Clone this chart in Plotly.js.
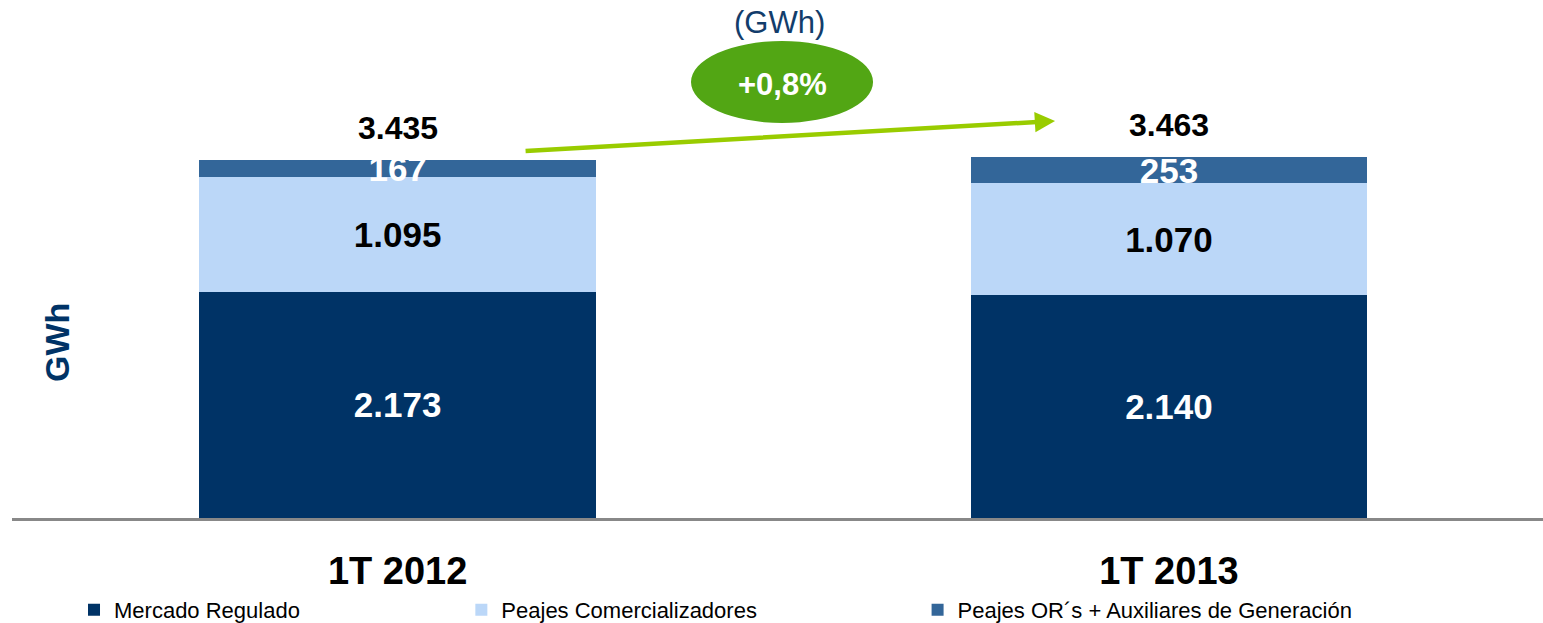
<!DOCTYPE html>
<html>
<head>
<meta charset="utf-8">
<script src="https://cdn.plot.ly/plotly-3.0.1.min.js"></script>
<style>html,body{margin:0;padding:0;background:#fff;}#chart{width:1543px;height:623px;}</style>
</head>
<body>
<div id="chart"></div>
<script>
const categories = ["1T 2012", "1T 2013"];
const mercadoRegulado = [2173, 2140];
const peajesComercializadores = [1095, 1070];
const peajesORs = [167, 253];
const totals = [3435, 3463];
const seriesNames = ["Mercado Regulado", "Peajes Comercializadores", "Peajes OR´s + Auxiliares de Generación"];
const growthLabel = "+0,8%";
const unitLabel = "(GWh)";
const yTitle = "GWh";

const FONT = "Liberation Sans, Arial, sans-serif";
const colors = ["#003366", "#BBD7F8", "#336699"];

function fmt(v) {
  return String(v).replace(/\B(?=(\d{3})+(?!\d))/g, ".");
}

const barWidth = 0.514;
function barTrace(name, values, color, textColor, legendId) {
  return {
    type: "bar",
    name: name,
    x: categories,
    y: values,
    width: [barWidth, barWidth],
    marker: {color: color, line: {width: 0}},
    texttemplate: "%{y:,.0f}",
    textposition: "inside",
    insidetextanchor: "middle",
    constraintext: "none",
    textangle: 0,
    cliponaxis: false,
    insidetextfont: {family: FONT, size: 35, color: textColor, weight: "bold"},
    legend: legendId,
    hoverinfo: "skip"
  };
}

const data = [
  barTrace(seriesNames[0], mercadoRegulado, colors[0], "#ffffff", "legend"),
  barTrace(seriesNames[1], peajesComercializadores, colors[1], "#000000", "legend2"),
  barTrace(seriesNames[2], peajesORs, colors[2], "#ffffff", "legend3")
];

const legendFont = {family: FONT, size: 22, color: "#000000"};
function legendAt(x) {
  return {x: x, y: -0.232, xanchor: "left", yanchor: "middle", orientation: "h",
          font: legendFont, bgcolor: "rgba(0,0,0,0)", borderwidth: 0, itemwidth: 30,
          itemclick: false, itemdoubleclick: false};
}

const annotations = [];
totals.forEach((t, i) => {
  annotations.push({
    x: categories[i], y: t, xref: "x", yref: "y",
    text: "<b>" + fmt(t) + "</b>", showarrow: false,
    yanchor: "bottom", yshift: 12,
    font: {family: FONT, size: 32, color: "#000000"}
  });
});
annotations.push({
  xref: "paper", yref: "paper", x: 0.6813, y: 1.0025,
  axref: "pixel", ayref: "pixel", ax: -531, ay: 30,
  text: "", showarrow: true, arrowhead: 2, arrowsize: 0.9, arrowwidth: 4.5,
  arrowcolor: "#99CC00"
});
annotations.push({
  xref: "paper", yref: "paper", x: 0.503, y: 1.094,
  text: "<b>" + growthLabel + "</b>", showarrow: false,
  xanchor: "center", yanchor: "middle",
  font: {family: FONT, size: 31, color: "#ffffff"}
});
annotations.push({
  xref: "paper", yref: "paper", x: 0.5016, y: 1.2525,
  text: unitLabel, showarrow: false, xanchor: "center", yanchor: "middle",
  font: {family: FONT, size: 31, color: "#123D6B"}
});
annotations.push({
  xref: "paper", yref: "paper", x: 0.0294, y: 0.442,
  text: "<b>" + yTitle + "</b>", showarrow: false, textangle: -90,
  xanchor: "center", yanchor: "middle",
  font: {family: FONT, size: 34, color: "#003366"}
});

const layout = {
  width: 1543, height: 623,
  margin: {l: 12, r: 0, t: 122, b: 105, autoexpand: false},
  paper_bgcolor: "#ffffff", plot_bgcolor: "#ffffff",
  separators: ",.",
  barmode: "stack",
  font: {family: FONT},
  xaxis: {
    type: "category", range: [-0.5, 1.485],
    showline: true, linecolor: "#888888", linewidth: 3,
    showgrid: false, zeroline: false, ticks: "",
    automargin: false,
    ticklabelstandoff: 17,
    tickfont: {family: FONT, size: 38, color: "#000000", weight: "bold"}
  },
  yaxis: {
    range: [0, 3800], showgrid: false, zeroline: false, showline: false,
    showticklabels: false, ticks: "", automargin: false
  },
  legend: legendAt(0.0405),
  legend2: legendAt(0.2935),
  legend3: legendAt(0.5915),
  shapes: [{
    type: "circle", xref: "paper", yref: "paper",
    x0: 0.4435, x1: 0.5624, y0: 0.9975, y1: 1.2045,
    fillcolor: "#52A614", line: {width: 0}
  }],
  annotations: annotations,
  showlegend: true
};

Plotly.newPlot("chart", data, layout, {staticPlot: true, displayModeBar: false});
</script>
</body>
</html>
